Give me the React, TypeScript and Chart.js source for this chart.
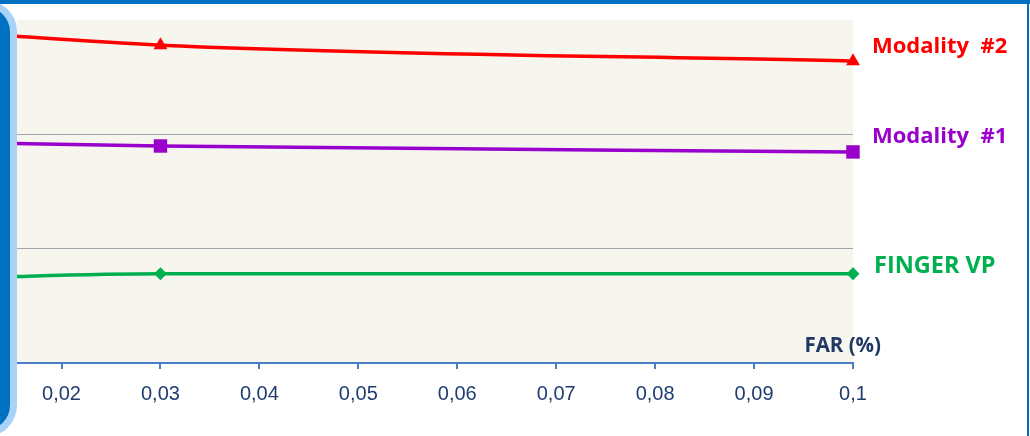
import React, { useEffect, useRef } from "react";
import { Chart, registerables } from "chart.js";

Chart.register(...registerables);

// ---- data ----
const farValues = [0.01, 0.03, 0.1];
const modality2 = [2.89, 2.78, 2.64];
const modality1 = [1.93, 1.898, 1.846];
const fingerVP = [0.745, 0.78, 0.78];
const xTicks = [0.02, 0.03, 0.04, 0.05, 0.06, 0.07, 0.08, 0.09, 0.1];
const seriesNames = ["Modality  #2", "Modality  #1", "FINGER VP"];
const seriesColors = ["#ff0000", "#9900cc", "#00b050"];
const xAxisTitle = "FAR (%)";

const LABEL_FONT = '"Open Sans", "Lato", sans-serif';

const decoPlugin = {
  id: "deco",
  beforeDraw(chart: any) {
    const { ctx, chartArea: a } = chart;
    ctx.save();
    ctx.fillStyle = "#f6f5ee";
    ctx.fillRect(a.left, a.top, a.right - a.left, a.bottom - a.top);
    ctx.restore();
  },
  afterDraw(chart: any) {
    const { ctx, chartArea: a } = chart;
    ctx.save();
    ctx.textBaseline = "alphabetic";
    ctx.textAlign = "left";
    const lx = a.right + 19;
    ctx.font = `bold 22px ${LABEL_FONT}`;
    ctx.fillStyle = seriesColors[0];
    ctx.fillText(seriesNames[0], lx, 53);
    ctx.fillStyle = seriesColors[1];
    ctx.fillText(seriesNames[1], lx, 143);
    ctx.font = `bold 23.5px ${LABEL_FONT}`;
    ctx.fillStyle = seriesColors[2];
    ctx.fillText(seriesNames[2], lx + 2, 273);
    ctx.font = `bold 20.5px ${LABEL_FONT}`;
    ctx.fillStyle = "#1f3864";
    ctx.textAlign = "right";
    ctx.fillText(xAxisTitle, a.right + 28, 352);
    ctx.restore();
  },
};

function fmt(v: number) {
  return String(Number(v.toFixed(2))).replace(".", ",");
}

export default function App() {
  const ref = useRef<HTMLCanvasElement | null>(null);

  useEffect(() => {
    document.body.style.margin = "0";
    const mk = (i: number, data: number[], style: string, radius: number) => ({
      label: seriesNames[i],
      data: farValues.map((x, k) => ({ x, y: data[k] })),
      borderColor: seriesColors[i],
      backgroundColor: seriesColors[i],
      borderWidth: 3.5,
      pointStyle: style,
      pointRadius: radius,
      pointHoverRadius: radius,
      pointBorderWidth: 0,
      cubicInterpolationMode: "monotone",
      clip: { left: 0, top: false, right: false, bottom: 0 },
    });
    const chart = new Chart(ref.current as HTMLCanvasElement, {
      type: "line",
      data: {
        datasets: [
          mk(0, modality2, "triangle", 8),
          mk(1, modality1, "rect", 9.5),
          mk(2, fingerVP, "rectRot", 6.5),
        ] as any,
      },
      options: {
        animation: false,
        responsive: true,
        maintainAspectRatio: false,
        layout: { padding: { left: 17, right: 177, top: 20, bottom: 0 } },
        plugins: { legend: { display: false }, tooltip: { enabled: false } },
        scales: {
          x: {
            type: "linear",
            min: 0.0155,
            max: 0.1,
            afterBuildTicks: (scale: any) => {
              scale.ticks = xTicks.map((v) => ({ value: v }));
            },
            afterFit: (scale: any) => {
              scale.height = 73;
            },
            border: { display: true, color: "#4a7ec4", width: 2 },
            grid: {
              drawOnChartArea: false,
              drawTicks: true,
              tickLength: 6,
              color: "#4a7ec4",
              lineWidth: 2,
            },
            ticks: {
              padding: 13,
              color: "#1f3d70",
              font: { family: '"Liberation Sans", Arial, sans-serif', size: 20 },
              callback: (v: any) => fmt(Number(v)),
              maxRotation: 0,
              autoSkip: false,
            },
          },
          y: {
            min: 0,
            max: 3,
            afterBuildTicks: (scale: any) => {
              scale.ticks = [1, 2].map((v) => ({ value: v }));
            },
            afterFit: (scale: any) => {
              scale.width = 0;
            },
            border: { display: false },
            grid: { color: "#a4a4ac", lineWidth: 1, drawTicks: false },
            ticks: { display: false },
          },
        },
      } as any,
      plugins: [decoPlugin],
    });
    return () => chart.destroy();
  }, []);

  return (
    <div
      style={{
        position: "fixed",
        left: 0,
        top: 0,
        width: 1030,
        height: 436,
        background: "#ffffff",
        overflow: "hidden",
      }}
    >
      <div style={{ position: "absolute", left: 0, top: 0, width: 1030, height: 436 }}>
        <canvas ref={ref} />
      </div>
      {/* slide frame decorations */}
      <div
        style={{
          position: "absolute",
          left: 0,
          top: 0,
          width: 1030,
          height: 4,
          background: "#0070c0",
        }}
      />
      <div
        style={{
          position: "absolute",
          left: 1027,
          top: 0,
          width: 2,
          height: 436,
          background: "#0070c0",
        }}
      />
      <div
        style={{
          position: "absolute",
          left: -50,
          top: 0,
          width: 53,
          height: 423,
          background: "#0070c0",
          border: "7px solid #a9d2f8",
          borderRadius: 32,
        }}
      />
    </div>
  );
}
